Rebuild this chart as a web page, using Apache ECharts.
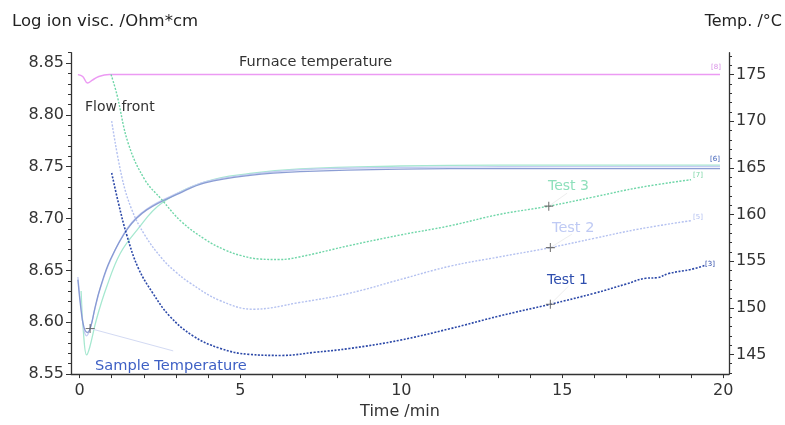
<!DOCTYPE html>
<html>
<head>
<meta charset="utf-8">
<script src="https://cdn.jsdelivr.net/npm/echarts@6/dist/echarts.min.js"></script>
<style>
html,body{margin:0;padding:0;background:#fff;}
#chart{width:785px;height:425px;}
</style>
</head>
<body>
<div id="chart"></div>
<script>
// ---- data (time in min, ion viscosity in log Ohm*cm, temperature in °C) ----
var xTickLabels = [0, 5, 10, 15, 20];
var xMinorTicks = [0,1,2,3,4,5,6,7,8,9,10,11,12,13,14,15,16,17,18,19,20];
var leftTickLabels = [8.55, 8.60, 8.65, 8.70, 8.75, 8.80, 8.85];
var leftMinorTicks = [8.55,8.56,8.57,8.58,8.59,8.60,8.61,8.62,8.63,8.64,8.65,8.66,8.67,8.68,8.69,8.70,8.71,8.72,8.73,8.74,8.75,8.76,8.77,8.78,8.79,8.80,8.81,8.82,8.83,8.84,8.85,8.86];
var rightTickLabels = [145, 150, 155, 160, 165, 170, 175];
var rightMinorTicks = [143,144,145,146,147,148,149,150,151,152,153,154,155,156,157,158,159,160,161,162,163,164,165,166,167,168,169,170,171,172,173,174,175,176,177];

var test1 = [[1.0,8.744],[1.21,8.715],[1.47,8.684],[1.83,8.652],[2.28,8.628],[2.8,8.606],[3.52,8.587],[4.35,8.575],[5.28,8.569],[6.3,8.568],[7.3,8.571],[8.39,8.5747],[9.94,8.5826],[11.5,8.5937],[13.04,8.606],[14.63,8.6174],[16.0,8.628],[17.0,8.637],[17.6,8.6425],[17.95,8.643],[18.3,8.647],[19.0,8.651],[19.45,8.655]];
var test2 = [[1.0,8.794],[1.31,8.741],[1.62,8.709],[2.03,8.684],[2.55,8.662],[2.97,8.649],[3.43,8.638],[4.36,8.621],[5.4,8.6126],[6.83,8.619],[8.39,8.628],[9.94,8.641],[11.5,8.654],[13.04,8.663],[14.63,8.672],[16.0,8.681],[17.4,8.690],[19.0,8.698]];
var test3 = [[0.98,8.839],[1.16,8.82],[1.52,8.772],[2.03,8.7375],[2.55,8.7185],[3.17,8.697],[3.9,8.680],[4.5,8.670],[5.0,8.6645],[5.6,8.661],[6.2,8.6605],[6.83,8.663],[8.39,8.674],[9.94,8.684],[11.5,8.693],[13.04,8.704],[14.58,8.712],[16.0,8.721],[17.4,8.730],[19.0,8.7375]];

var sampleTemp1 = [[-0.05,153.0],[0.05,149.7],[0.14,147.9],[0.25,147.35],[0.36,148.1],[0.48,150.0],[0.64,152.1],[0.95,155.1],[1.5,158.5],[2.09,160.5],[3.12,162.3],[3.9,163.4],[5.3,164.2],[6.85,164.6],[9.96,164.87],[13.06,164.92],[19.9,164.92]];
var sampleTemp2 = [[-0.05,153.3],[0.05,150.0],[0.14,147.6],[0.22,147.0],[0.33,147.8],[0.48,149.9],[0.64,152.0],[0.95,155.0],[1.5,158.6],[2.09,160.6],[3.12,162.4],[3.9,163.5],[5.3,164.3],[6.85,164.8],[9.96,165.05],[13.06,165.12],[19.9,165.15]];
var sampleTemp3 = [[0.05,151.8],[0.12,147.5],[0.22,144.95],[0.32,145.8],[0.53,148.8],[0.85,152.3],[1.26,155.8],[1.78,158.3],[2.55,161.2],[3.9,163.5],[5.3,164.4],[6.85,164.9],[9.96,165.2],[13.06,165.3],[19.9,165.3]];
var furnaceTemp = [[-0.05,175.0],[0.1,174.8],[0.25,174.1],[0.4,174.4],[0.6,174.8],[0.93,175.0],[5,175.0],[10,175.0],[15,175.0],[19.9,175.0]];

var crossPoints = [[14.58,8.712],[14.63,8.672],[14.63,8.6174],[0.33,8.594]];
var leaderSample = [[0.33,8.594],[2.91,8.5724]];
var leaderTest3 = [[14.58,8.712],[15.15,8.7245]];
var leaderTest2 = [[14.63,8.672],[15.3,8.685]];
var leaderTest1 = [[14.63,8.6174],[15.2,8.635]];

var chart = echarts.init(document.getElementById('chart'), null, {renderer:'canvas'});
var FONT = '"DejaVu Sans", "Liberation Sans", sans-serif';
var AX = '#333';

function txt(text, x, y, size, color, align){
  return {type:'text', z:100, style:{text:text, x:x, y:y, fill:color, font: size + 'px ' + FONT, align: align || 'left', verticalAlign:'middle'}};
}

var option = {
  backgroundColor:'#fff',
  animation:false,
  grid:{left:71, right:56, top:52.7, bottom:45.7, containLabel:false},
  xAxis:[{
    type:'value', min:-0.264, max:20.18,
    axisLine:{show:true, onZero:false, lineStyle:{color:AX, width:1.3}},
    axisTick:{show:true, inside:false, length:4, customValues:xMinorTicks, lineStyle:{color:AX}},
    axisLabel:{show:true, customValues:xTickLabels, margin:9, color:'#333', fontSize:16, fontFamily:FONT},
    splitLine:{show:false},
    name:'Time /min', nameLocation:'middle', nameGap:26,
    nameTextStyle:{color:'#333', fontSize:16, fontFamily:FONT}
  }],
  yAxis:[{
    type:'value', position:'left', min:8.55, max:8.86,
    axisLine:{show:true, onZero:false, lineStyle:{color:AX, width:1.3}},
    axisTick:{show:true, length:5, customValues:leftTickLabels, lineStyle:{color:AX}},
    axisLabel:{show:true, customValues:leftTickLabels, margin:7, color:'#333', fontSize:16, fontFamily:FONT,
      formatter:function(v){return v.toFixed(2);}},
    splitLine:{show:false}
  },{
    type:'value', position:'right', min:142.89, max:177.35,
    axisLine:{show:true, onZero:false, lineStyle:{color:AX, width:1.3}},
    axisTick:{show:true, length:5, customValues:rightTickLabels, lineStyle:{color:AX}},
    axisLabel:{show:true, customValues:rightTickLabels, margin:7, color:'#333', fontSize:16, fontFamily:FONT},
    splitLine:{show:false}
  },{
    type:'value', position:'left', min:8.55, max:8.86,
    axisLine:{show:false, onZero:false},
    axisTick:{show:true, length:3, customValues:leftMinorTicks, lineStyle:{color:AX}},
    axisLabel:{show:false}, splitLine:{show:false}
  },{
    type:'value', position:'right', min:142.89, max:177.35,
    axisLine:{show:false, onZero:false},
    axisTick:{show:true, length:3, customValues:rightMinorTicks, lineStyle:{color:AX}},
    axisLabel:{show:false}, splitLine:{show:false}
  }],
  series:[
    {name:'Furnace temperature', type:'line', yAxisIndex:1, data:furnaceTemp, smooth:0.4, showSymbol:false,
      lineStyle:{color:'#ec9af3', width:1.5}},
    {name:'Sample temperature 3', type:'line', yAxisIndex:1, data:sampleTemp3, smooth:0.4, showSymbol:false,
      lineStyle:{color:'#a6e8d0', width:1.3}},
    {name:'Sample temperature 2', type:'line', yAxisIndex:1, data:sampleTemp2, smooth:0.4, showSymbol:false,
      lineStyle:{color:'#c4cdf2', width:1.3}},
    {name:'Sample temperature 1', type:'line', yAxisIndex:1, data:sampleTemp1, smooth:0.4, showSymbol:false,
      lineStyle:{color:'#7f93cf', width:1.3, opacity:0.9}},
    {name:'Test 3', type:'line', yAxisIndex:0, data:test3, smooth:0.4, showSymbol:false,
      lineStyle:{color:'#6fd6a8', width:1.4, type:[2,1.5]}},
    {name:'Test 2', type:'line', yAxisIndex:0, data:test2, smooth:0.4, showSymbol:false,
      lineStyle:{color:'#b4c1f0', width:1.4, type:[2,1.5]}},
    {name:'Test 1', type:'line', yAxisIndex:0, data:test1, smooth:0.4, showSymbol:false,
      lineStyle:{color:'#2b48a8', width:1.6, type:[2,1.5]}},
    {name:'leaderSample', type:'line', yAxisIndex:0, data:leaderSample, showSymbol:false, lineStyle:{color:'#d3daf3', width:1}},
    {name:'leaderTest3', type:'line', yAxisIndex:0, data:leaderTest3, showSymbol:false, lineStyle:{color:'#eeeeee', width:1}},
    {name:'leaderTest2', type:'line', yAxisIndex:0, data:leaderTest2, showSymbol:false, lineStyle:{color:'#eeeeee', width:1}},
    {name:'leaderTest1', type:'line', yAxisIndex:0, data:leaderTest1, showSymbol:false, lineStyle:{color:'#eeeeee', width:1}},
    {name:'markers', type:'scatter', yAxisIndex:0, data:crossPoints, z:20,
      symbol:'path://M4.4,0h1.2v10h-1.2zM0,4.4h10v1.2h-10z', symbolSize:9,
      itemStyle:{color:'#555'}}
  ],
  graphic:[
    txt('Log ion visc. /Ohm*cm', 12, 22, 16.5, '#222'),
    txt('Temp. /°C', 782, 22, 16, '#222', 'right'),
    txt('Furnace temperature', 239, 62, 14.5, '#333'),
    txt('Flow front', 85, 107, 14, '#333'),
    txt('Test 3', 548, 186, 14, '#8fe0bc'),
    txt('Test 2', 552, 228, 14.5, '#bfcaf4'),
    txt('Test 1', 547, 280, 14, '#2e4eae'),
    txt('Sample Temperature', 95, 366, 14.6, '#3d5fc4'),
    txt('[8]', 711, 67, 7, '#d88fe6'),
    txt('[6]', 710, 159, 7, '#3d5fb8'),
    txt('[7]', 693, 175, 7, '#7fd6a8'),
    txt('[5]', 693, 217, 7, '#b4c1f0'),
    txt('[3]', 705, 264, 7, '#2b48a8')
  ]
};
chart.setOption(option);
</script>
</body>
</html>
